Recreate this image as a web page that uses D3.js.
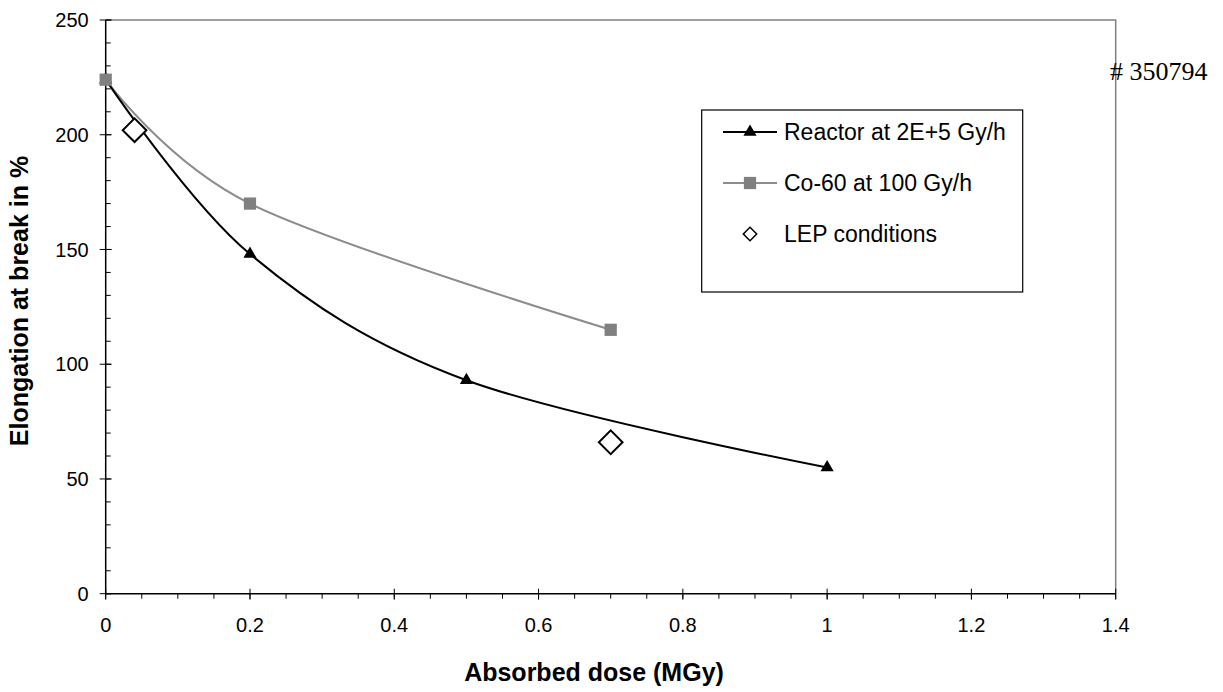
<!DOCTYPE html>
<html>
<head>
<meta charset="utf-8">
<script src="https://cdn.jsdelivr.net/npm/d3@7"></script>
<style>
  html, body { margin: 0; padding: 0; background: #fff; }
  svg { display: block; }
</style>
</head>
<body>
<svg id="chart" width="1223" height="692"></svg>
<script>
// ---- data ----
const reactorDose = [0, 0.2, 0.5, 1.0];
const reactorElong = [224, 148, 93, 55];
const cobaltDose = [0, 0.2, 0.7];
const cobaltElong = [224, 170, 115];
const lepDose = [0.04, 0.7];
const lepElong = [202, 66];
const xTicks = [0, 0.2, 0.4, 0.6, 0.8, 1, 1.2, 1.4];
const yTicks = [0, 50, 100, 150, 200, 250];
const seriesNames = ["Reactor at 2E+5 Gy/h", "Co-60 at 100 Gy/h", "LEP conditions"];
const xTitle = "Absorbed dose (MGy)";
const yTitle = "Elongation at break in %";
const stamp = "# 350794";

// ---- layout ----
const SANS = "'Liberation Sans', Arial, sans-serif";
const SERIF = "'Liberation Serif', 'Times New Roman', serif";
const svg = d3.select("#chart");
const L = 105.7, R = 1115.7, T = 20, B = 593.7;
const x = d3.scaleLinear().domain([0, 1.4]).range([L, R]);
const y = d3.scaleLinear().domain([0, 250]).range([B, T]);
const tickFont = 20;

// plot border (top and right)
svg.append("path")
  .attr("d", `M${L},${T}H${R}V${B}`)
  .attr("fill", "none").attr("stroke", "#808080").attr("stroke-width", 1.5);

// x minor ticks
const xMinor = d3.range(0, 1.4001, 0.05);
svg.append("g").selectAll("line").data(xMinor).join("line")
  .attr("x1", d => x(d)).attr("x2", d => x(d))
  .attr("y1", B).attr("y2", B + 5)
  .attr("stroke", "#000").attr("stroke-width", 1);
// x major ticks
svg.append("g").selectAll("line").data(xTicks).join("line")
  .attr("x1", d => x(d)).attr("x2", d => x(d))
  .attr("y1", B - 5).attr("y2", B + 6)
  .attr("stroke", "#000").attr("stroke-width", 1);
// y minor ticks
const yMinor = d3.range(0, 250.01, 10);
svg.append("g").selectAll("line").data(yMinor).join("line")
  .attr("x1", L).attr("x2", L + 5)
  .attr("y1", d => y(d)).attr("y2", d => y(d))
  .attr("stroke", "#000").attr("stroke-width", 1);
// y major ticks
svg.append("g").selectAll("line").data(yTicks).join("line")
  .attr("x1", L - 6).attr("x2", L + 6)
  .attr("y1", d => y(d)).attr("y2", d => y(d))
  .attr("stroke", "#000").attr("stroke-width", 1);

// axis lines
svg.append("line").attr("x1", L).attr("x2", R).attr("y1", B).attr("y2", B)
  .attr("stroke", "#000").attr("stroke-width", 1.5);
svg.append("line").attr("x1", L).attr("x2", L).attr("y1", T).attr("y2", B)
  .attr("stroke", "#000").attr("stroke-width", 1.5);

// tick labels
svg.append("g").selectAll("text").data(xTicks).join("text")
  .attr("x", d => x(d)).attr("y", B + 38)
  .attr("text-anchor", "middle").style("font-family", SANS).style("font-size", tickFont + "px")
  .text(d => d3.format("")(d));
svg.append("g").selectAll("text").data(yTicks).join("text")
  .attr("x", L - 17).attr("y", d => y(d)).attr("dy", "0.36em")
  .attr("text-anchor", "end").style("font-family", SANS).style("font-size", tickFont + "px")
  .text(d => d);

// axis titles
svg.append("text").attr("x", 594).attr("y", 681)
  .attr("text-anchor", "middle").style("font-family", SANS).style("font-size", "25px").style("font-weight", "bold")
  .text(xTitle);
svg.append("text").attr("transform", "translate(28,301) rotate(-90)")
  .attr("text-anchor", "middle").style("font-family", SANS).style("font-size", "25px").style("font-weight", "bold")
  .text(yTitle);

// series lines
const line = d3.line().x(d => x(d[0])).y(d => y(d[1])).curve(d3.curveCardinal.tension(0));
const reactor = reactorDose.map((d, i) => [d, reactorElong[i]]);
const cobalt = cobaltDose.map((d, i) => [d, cobaltElong[i]]);
const lep = lepDose.map((d, i) => [d, lepElong[i]]);

svg.append("path").datum(cobalt).attr("d", line)
  .attr("fill", "none").attr("stroke", "#8c8c8c").attr("stroke-width", 2);
svg.append("path").datum(reactor).attr("d", line)
  .attr("fill", "none").attr("stroke", "#000").attr("stroke-width", 2);

const tri = d3.symbol().type(d3.symbolTriangle).size(75);
const sq = d3.symbol().type(d3.symbolSquare).size(150);
const dia = d3.symbol().type(d3.symbolSquare).size(280);

svg.append("g").selectAll("path").data(reactor).join("path")
  .attr("transform", d => `translate(${x(d[0])},${y(d[1])})`)
  .attr("d", tri).attr("fill", "#000");
svg.append("g").selectAll("path").data(cobalt).join("path")
  .attr("transform", d => `translate(${x(d[0])},${y(d[1])})`)
  .attr("d", sq).attr("fill", "#808080");
svg.append("g").selectAll("path").data(lep).join("path")
  .attr("transform", d => `translate(${x(d[0])},${y(d[1])}) rotate(45)`)
  .attr("d", dia).attr("fill", "#fff").attr("stroke", "#000").attr("stroke-width", 2);

// legend
const lg = svg.append("g");
const lgX = 701.7, lgY = 110, lgW = 321, lgH = 182;
lg.append("rect").attr("x", lgX).attr("y", lgY).attr("width", lgW).attr("height", lgH)
  .attr("fill", "#fff").attr("stroke", "#000").attr("stroke-width", 1.2);
const rowsY = [132, 183, 234];
const styles = [
  {stroke: "#000", sym: tri, fill: "#000", rot: 0, sw: 0},
  {stroke: "#8c8c8c", sym: sq, fill: "#808080", rot: 0, sw: 0},
  {stroke: null, sym: d3.symbol().type(d3.symbolSquare).size(90), fill: "#fff", rot: 45, sw: 1.5}
];
seriesNames.forEach((name, i) => {
  const s = styles[i];
  if (s.stroke) {
    lg.append("line").attr("x1", 723).attr("x2", 777)
      .attr("y1", rowsY[i]).attr("y2", rowsY[i])
      .attr("stroke", s.stroke).attr("stroke-width", 2);
  }
  lg.append("path").attr("transform", `translate(750,${rowsY[i]}) rotate(${s.rot})`)
    .attr("d", s.sym).attr("fill", s.fill)
    .attr("stroke", s.sw ? "#000" : "none").attr("stroke-width", s.sw);
  lg.append("text").attr("x", 784).attr("y", rowsY[i]).attr("dy", "0.36em")
    .style("font-family", SANS).style("font-size", "23px").text(name);
});

// stamp
svg.append("text").attr("x", 1110).attr("y", 80)
  .style("font-family", SERIF).style("font-size", "26px").text(stamp);
</script>
</body>
</html>
